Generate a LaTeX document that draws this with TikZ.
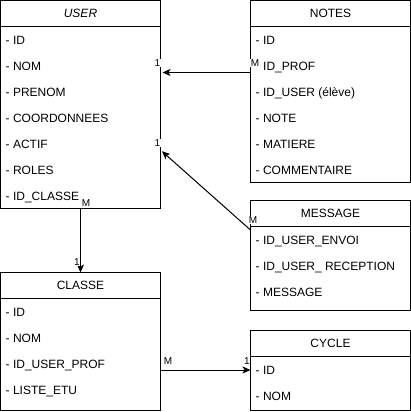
\documentclass[tikz,border=0pt]{standalone}
\usepackage{fontspec}
\setmainfont{Liberation Sans}
\usetikzlibrary{arrows.meta}

\begin{document}
\begin{tikzpicture}[x=1pt,y=-1pt,
    boite/.style={draw, line width=1pt, minimum width=160pt, inner sep=0pt, outer sep=0pt, anchor=north west, font=\fontsize{12}{14}\selectfont},
    champ/.style={anchor=base west, inner sep=0pt, font=\fontsize{12}{14}\selectfont},
    card/.style={fill=white, inner sep=0.6pt, font=\fontsize{10}{12}\selectfont},
    lien/.style={line width=1pt, -{Stealth[length=8pt,width=7pt,inset=2pt]}}]
    \useasboundingbox (0,0) rectangle (411,412);

    % USER
    \node[boite, minimum height=26pt] (userh) at (0.5,0.5) {\textit{USER}};
    \node[boite, minimum height=182pt] (userb) at (userh.south west) {};
    \node[champ] (u1) at (5.5,44.5) {- ID};
    \node[champ] (u2) at (5.5,70.5) {- NOM};
    \node[champ] (u3) at (5.5,96.5) {- PRENOM};
    \node[champ] (u4) at (5.5,122.5) {- COORDONNEES};
    \node[champ] (u5) at (5.5,148.5) {- ACTIF};
    \node[champ] (u6) at (5.5,174.5) {- ROLES};
    \node[champ] (u7) at (5.5,200.5) {- ID\_CLASSE};

    % NOTES
    \node[boite, minimum height=26pt] (notesh) at (250.5,0.5) {NOTES};
    \node[boite, minimum height=156pt] (notesb) at (notesh.south west) {};
    \node[champ] (n1) at (255.5,44.5) {- ID};
    \node[champ] (n2) at (263,70.5) {ID\_PROF};
    \node[champ] (n3) at (255.5,96.5) {- ID\_USER (élève)};
    \node[champ] (n4) at (255.5,122.5) {- NOTE};
    \node[champ] (n5) at (255.5,148.5) {- MATIERE};
    \node[champ] (n6) at (255.5,174.5) {- COMMENTAIRE};

    % MESSAGE
    \node[boite, minimum height=26pt] (messh) at (250.5,200.5) {MESSAGE};
    \node[boite, minimum height=84pt] (messb) at (messh.south west) {};
    \node[champ] (m1) at (255.5,244.5) {- ID\_USER\_ENVOI};
    \node[champ] (m2) at (255.5,270.5) {- ID\_USER\_ RECEPTION};
    \node[champ] (m3) at (255.5,296.5) {- MESSAGE};

    % CLASSE
    \node[boite, minimum height=26pt] (classeh) at (0.5,272.5) {CLASSE};
    \node[boite, minimum height=112pt] (classeb) at (classeh.south west) {};
    \node[champ] (c1) at (5.5,316.5) {- ID};
    \node[champ] (c2) at (5.5,342.5) {- NOM};
    \node[champ] (c3) at (5.5,368.5) {- ID\_USER\_PROF};
    \node[champ] (c4) at (5.5,394.5) {- LISTE\_ETU};

    % CYCLE
    \node[boite, minimum height=26pt] (cycleh) at (250.5,330.5) {CYCLE};
    \node[boite, minimum height=54pt] (cycleb) at (cycleh.south west) {};
    \node[champ] (y1) at (255.5,374.5) {- ID};
    \node[champ] (y2) at (255.5,400.5) {- NOM};

    % Liens
    \draw[lien, shorten >=2pt] (notesb.west |- 0,72.5) -- (userb.east |- 0,72.5);
    \draw[lien, shorten >=2pt] (messb.west |- 0,230) -- (userb.east |- 0,150);
    \draw[lien] (userb.south) -- (classeh.north);
    \draw[lien] (classeb.east |- 0,370) -- (cycleb.west |- 0,370);

    % Cardinalites
    \node[card] (k1) at (157.5,63) {1};
    \node[card] (k2) at (255,63) {M};
    \node[card] (k3) at (157.5,143) {1};
    \node[card] (k4) at (253,220) {M};
    \node[card] (k5) at (86,203) {M};
    \node[card] (k6) at (77,262) {1};
    \node[card] (k7) at (168,361) {M};
    \node[card] (k8) at (247,361) {1};
\end{tikzpicture}
\end{document}
